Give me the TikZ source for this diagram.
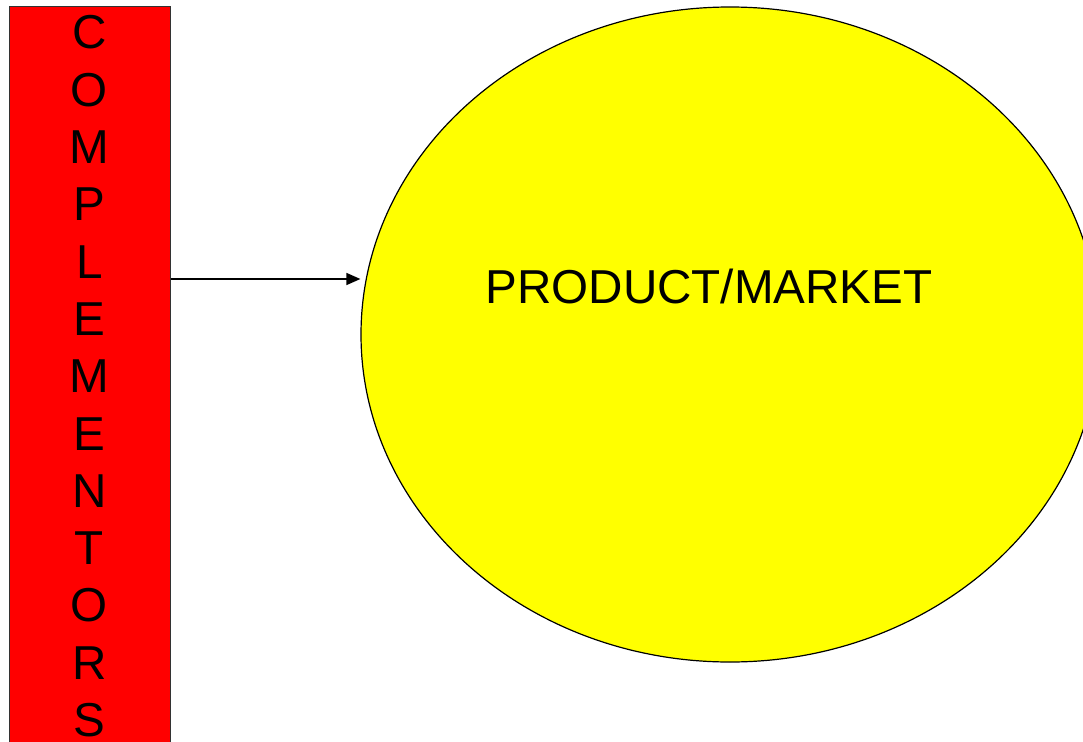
\documentclass[tikz,border=0pt]{standalone}
\usepackage{fontspec}
\setmainfont{Liberation Sans}
\usetikzlibrary{shapes.geometric,arrows.meta}
\definecolor{pmyellow}{RGB}{255,255,0}
\definecolor{barred}{RGB}{255,0,0}
\begin{document}
\begin{tikzpicture}[x=1pt,y=-1pt,
  bigtext/.style={font=\fontsize{47.6}{57.3}\selectfont, inner sep=0pt, text=black},
  redbar/.style={draw=black!80, line width=1pt, fill=barred},
  market/.style={ellipse, draw=black, line width=1.2pt, fill=pmyellow, inner sep=0pt,
                 minimum width=738pt, minimum height=655pt},
  conn/.style={draw=black, line width=1.5pt, -{Triangle[length=14pt,width=12pt]}}]
\useasboundingbox (0,0) rectangle (1083,741);
\clip (0,0) rectangle (1083,741);
\node[redbar, minimum width=161.5pt, minimum height=780pt, inner sep=0pt, anchor=north west] (comp) at (8.5,6) {};
\node[bigtext, align=center, anchor=base] (letters) at (89.5,736.5)
  {C\\O\\M\\P\\L\\E\\M\\E\\N\\T\\O\\R\\S};
\node[market] (pm) at (730,334.5) {};
\node[bigtext, anchor=base] (pmtext) at (709,303) {PRODUCT/MARKET};
\coordinate (arr) at (0,279);
\draw[conn] (comp.east |- arr) -- (pm.west |- arr);
\end{tikzpicture}
\end{document}
